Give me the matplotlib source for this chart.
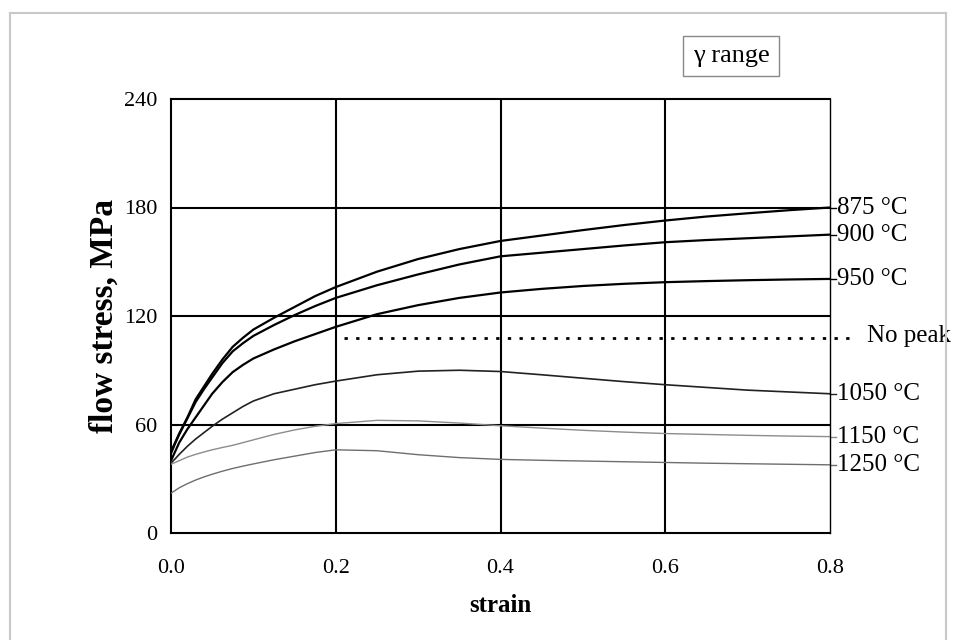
import matplotlib
matplotlib.use('Agg')
import matplotlib.pyplot as plt
from matplotlib.lines import Line2D

plt.rcParams['font.family'] = ['Liberation Serif', 'DejaVu Serif']

# strain points shared by all curves
strain = [0.0, 0.005, 0.01, 0.02, 0.03, 0.04, 0.05, 0.0625, 0.075, 0.0875, 0.1,
	0.125, 0.15, 0.175, 0.2, 0.25, 0.3, 0.35, 0.4, 0.45, 0.5, 0.55, 0.6, 0.65,
	0.7, 0.75, 0.8]

# flow stress, MPa
s_875 = [45, 50, 55, 64, 74, 81, 88, 96, 103, 108, 112.5,
	119, 125, 131, 136, 144.5, 151.5, 157, 161.5, 164.5, 167.5, 170.3, 172.8, 175,
	176.8, 178.5, 180]
s_900 = [44, 49.5, 54.5, 63.5, 72.5, 79.5, 86, 94, 100.5, 105, 109,
	115, 120.5, 125.5, 130, 137, 143, 148.5, 153, 155, 157, 159, 160.8, 162,
	163, 164, 165]
s_950 = [40, 45, 50, 57.5, 64, 70.5, 77, 83.5, 89, 93, 96.5,
	101.5, 106, 110, 114, 121, 126, 130, 133, 135, 136.6, 137.8, 138.7, 139.3,
	139.8, 140.2, 140.5]
s_1050 = [38.7, 41, 43.5, 48, 52, 55.5, 59, 63, 66.5, 70, 73,
	77, 79.5, 82, 84, 87.5, 89.5, 90, 89.3, 87.5, 85.6, 83.7, 82, 80.5,
	79, 78, 77]
s_1150 = [38, 39, 40, 42, 43.5, 44.8, 46, 47.3, 48.5, 50, 51.5,
	54.5, 57, 59, 60.5, 62.3, 62, 60.8, 59.3, 58, 56.8, 55.8, 55, 54.5,
	54, 53.6, 53.3]
s_1250 = [22, 23.5, 25, 27.3, 29.3, 31, 32.5, 34.2, 35.7, 37, 38.2,
	40.5, 42.5, 44.5, 46, 45.5, 43.3, 41.7, 40.7, 40.2, 39.8, 39.4, 39, 38.6,
	38.3, 38, 37.7]

no_peak_strain = [0.21, 0.832]
no_peak_stress = [108, 108]

curves = [
	("875 °C", s_875, "black", 1.6),
	("900 °C", s_900, "black", 1.6),
	("950 °C", s_950, "black", 1.6),
	("1050 °C", s_1050, "#222222", 1.2),
	("1150 °C", s_1150, "#8c8c8c", 1.0),
	("1250 °C", s_1250, "#6e6e6e", 1.0),
]

fig = plt.figure(figsize=(9.68, 6.4), dpi=100)
ax = fig.add_axes([171 / 968, 1 - 533 / 640, 659 / 968, 434 / 640])

for x in [0.2, 0.4, 0.6]:
	ax.axvline(x, color="black", lw=1.5, zorder=1)
for y in [60, 120, 180]:
	ax.axhline(y, color="black", lw=1.5, zorder=1)

for label, vals, color, lw in curves:
	ax.plot(strain, vals, color=color, lw=lw, zorder=3, solid_joinstyle="round")
	ax.plot([strain[-1], strain[-1] + 0.007], [vals[-1], vals[-1]],
		color=color, lw=1, clip_on=False)
	ax.annotate(label, xy=(strain[-1], vals[-1]), xytext=(5, 0),
		textcoords="offset points", va="center", ha="left", fontsize=18,
		annotation_clip=False)

ax.plot(no_peak_strain, no_peak_stress, color="black", lw=2,
	linestyle=(0, (1.2, 3)), clip_on=False, zorder=3)
ax.annotate("No peak", xy=(no_peak_strain[-1], no_peak_stress[-1]), xytext=(8, 1),
	textcoords="offset points", va="center", ha="left", fontsize=18,
	annotation_clip=False)

ax.set_xlim(0, 0.8)
ax.set_ylim(0, 240)
ax.set_xticks([0.0, 0.2, 0.4, 0.6, 0.8])
ax.set_xticklabels(["0.0", "0.2", "0.4", "0.6", "0.8"])
ax.set_yticks([0, 60, 120, 180, 240])
ax.tick_params(axis="both", length=0, labelsize=16)
ax.tick_params(axis="x", pad=19)
ax.tick_params(axis="y", pad=10)
for side in ["left", "bottom", "top"]:
	ax.spines[side].set_linewidth(1.5)
ax.spines["right"].set_linewidth(1.0)

ax.set_xlabel("strain", fontsize=18, fontweight="bold", labelpad=11)
ax.set_ylabel("flow stress, MPa", fontsize=24, fontweight="bold", labelpad=3)

# outer frame of the scanned figure
fc = "#c8c8c8"
fig.add_artist(Line2D([10 / 968, 946 / 968], [1 - 13 / 640, 1 - 13 / 640], color=fc, lw=1.5))
fig.add_artist(Line2D([10 / 968, 10 / 968], [0, 1 - 13 / 640], color=fc, lw=1.5))
fig.add_artist(Line2D([946 / 968, 946 / 968], [0, 1 - 13 / 640], color=fc, lw=1.5))

fig.text(731 / 968, 1 - 56 / 640, "γ range", fontsize=19, ha="center", va="center",
	bbox=dict(boxstyle="square,pad=0.35", fc="white", ec="#888888", lw=1))

fig.savefig("out.png", dpi=100)
